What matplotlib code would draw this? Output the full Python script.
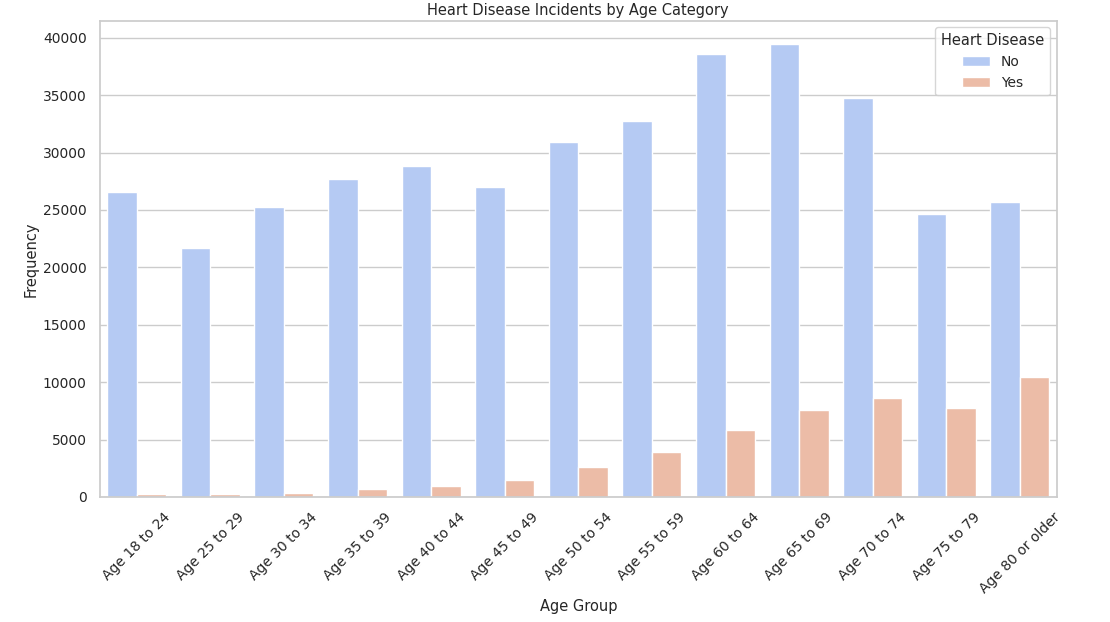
import matplotlib
matplotlib.use("Agg")
import matplotlib.pyplot as plt
import seaborn as sns
import pandas as pd

categories = ["Age 18 to 24", "Age 25 to 29", "Age 30 to 34", "Age 35 to 39",
              "Age 40 to 44", "Age 45 to 49", "Age 50 to 54", "Age 55 to 59",
              "Age 60 to 64", "Age 65 to 69", "Age 70 to 74", "Age 75 to 79",
              "Age 80 or older"]
no_values = [26550, 21660, 25240, 27690, 28820, 26990, 30920, 32750,
             38600, 39480, 34760, 24630, 25680]
yes_values = [260, 260, 370, 660, 960, 1480, 2620, 3930,
              5850, 7600, 8650, 7770, 10480]
hue_labels = ["No", "Yes"]

df = pd.DataFrame({
    "AgeCategory": categories * 2,
    "HadHeartAttack": [hue_labels[0]] * len(categories) + [hue_labels[1]] * len(categories),
    "Frequency": no_values + yes_values,
})

sns.set_theme(style="whitegrid")
plt.rcParams["font.family"] = ["DejaVu Sans"]

fig = plt.figure(figsize=(11.1, 6.22), dpi=100)
ax = fig.add_axes([0.090, 0.201, 0.862, 0.766])
sns.barplot(data=df, x="AgeCategory", y="Frequency", hue="HadHeartAttack",
            palette="coolwarm", ax=ax, errorbar=None)
ax.set_title("Heart Disease Incidents by Age Category", fontsize=10.5, pad=4)
ax.set_xlabel("Age Group", fontsize=10.5, labelpad=2)
ax.set_ylabel("Frequency", fontsize=10.5, labelpad=3)
ax.tick_params(axis="both", labelsize=10)
ax.set_ylim(0, 41500)
plt.setp(ax.get_xticklabels(), rotation=45)
leg = ax.legend(title="Heart Disease", loc="upper right", fontsize=10, title_fontsize=10.5)
fig.savefig("out.png", dpi=100)
